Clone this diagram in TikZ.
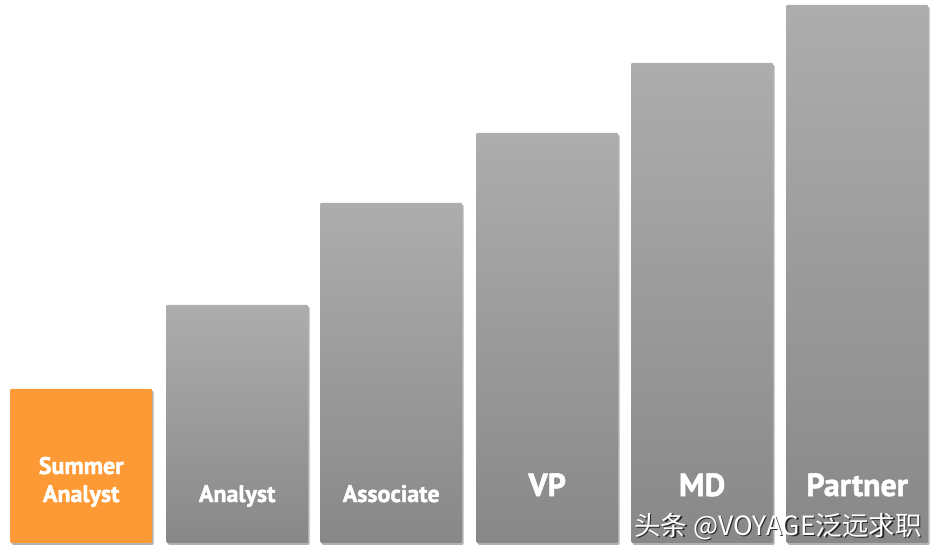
\documentclass[tikz,border=0pt]{standalone}
\usepackage{fontspec}
\setmainfont{PT Sans}[BoldFeatures={FakeBold=1.6}]
\newfontfamily\cjk{Noto Sans CJK SC}
\usetikzlibrary{positioning,shadows}
\definecolor{barTop}{HTML}{ADADAD}
\definecolor{barBot}{HTML}{888888}
\definecolor{summer}{HTML}{FD9A35}
\tikzset{
  bar/.style={rectangle, minimum width=142pt, inner sep=0pt, anchor=south west,
    rounded corners=1.2pt, top color=barTop, bottom color=barBot,
    drop shadow={shadow xshift=1.5pt, shadow yshift=-2pt, opacity=0.3, fill=black}},
  small/.style={text=white, font=\bfseries\fontsize{24}{28}\selectfont, inner sep=0pt, anchor=base},
  big/.style={text=white, font=\bfseries\fontsize{32}{34}\selectfont, inner sep=0pt, anchor=base}
}
\begin{document}
\begin{tikzpicture}[x=1pt,y=-1pt]
\useasboundingbox (0,0) rectangle (938,554);
% the bars, bottom at y=543
\draw node (bsa) at (10,543) [bar, minimum height=154pt, top color=summer, bottom color=summer]{};
\draw node foreach \x/\h/\n in {166/238/an,320/340/as,476/410/vp,631/480/md,786/538/pa}
  (b\n) at (\x,543) [bar, minimum height=\h pt]{};

% labels
\draw node (lsa) at ([yshift=41pt]bsa.south) [small, align=center]{Summer\\Analyst};
\draw node (lan) at ([yshift=41pt]ban.south) [small]{Analyst};
\draw node (las) at ([yshift=41pt]bas.south) [small]{Associate};
\draw node (lvp) at ([yshift=47pt]bvp.south) [big]{VP};
\draw node (lmd) at ([yshift=47pt]bmd.south) [big]{MD};
\draw node (lpa) at ([yshift=47pt]bpa.south) [big]{Partner};

% watermark
\draw node (wms) at (779.5,536.5) [anchor=base, inner sep=0pt, text=black!85, font=\cjk\fontsize{26.5}{28}\selectfont]{头条 @VOYAGE泛远求职};
\draw node (wm) at (778,535) [anchor=base, inner sep=0pt, text=white, font=\cjk\fontsize{26.5}{28}\selectfont]{头条 @VOYAGE泛远求职};
\end{tikzpicture}
\end{document}
